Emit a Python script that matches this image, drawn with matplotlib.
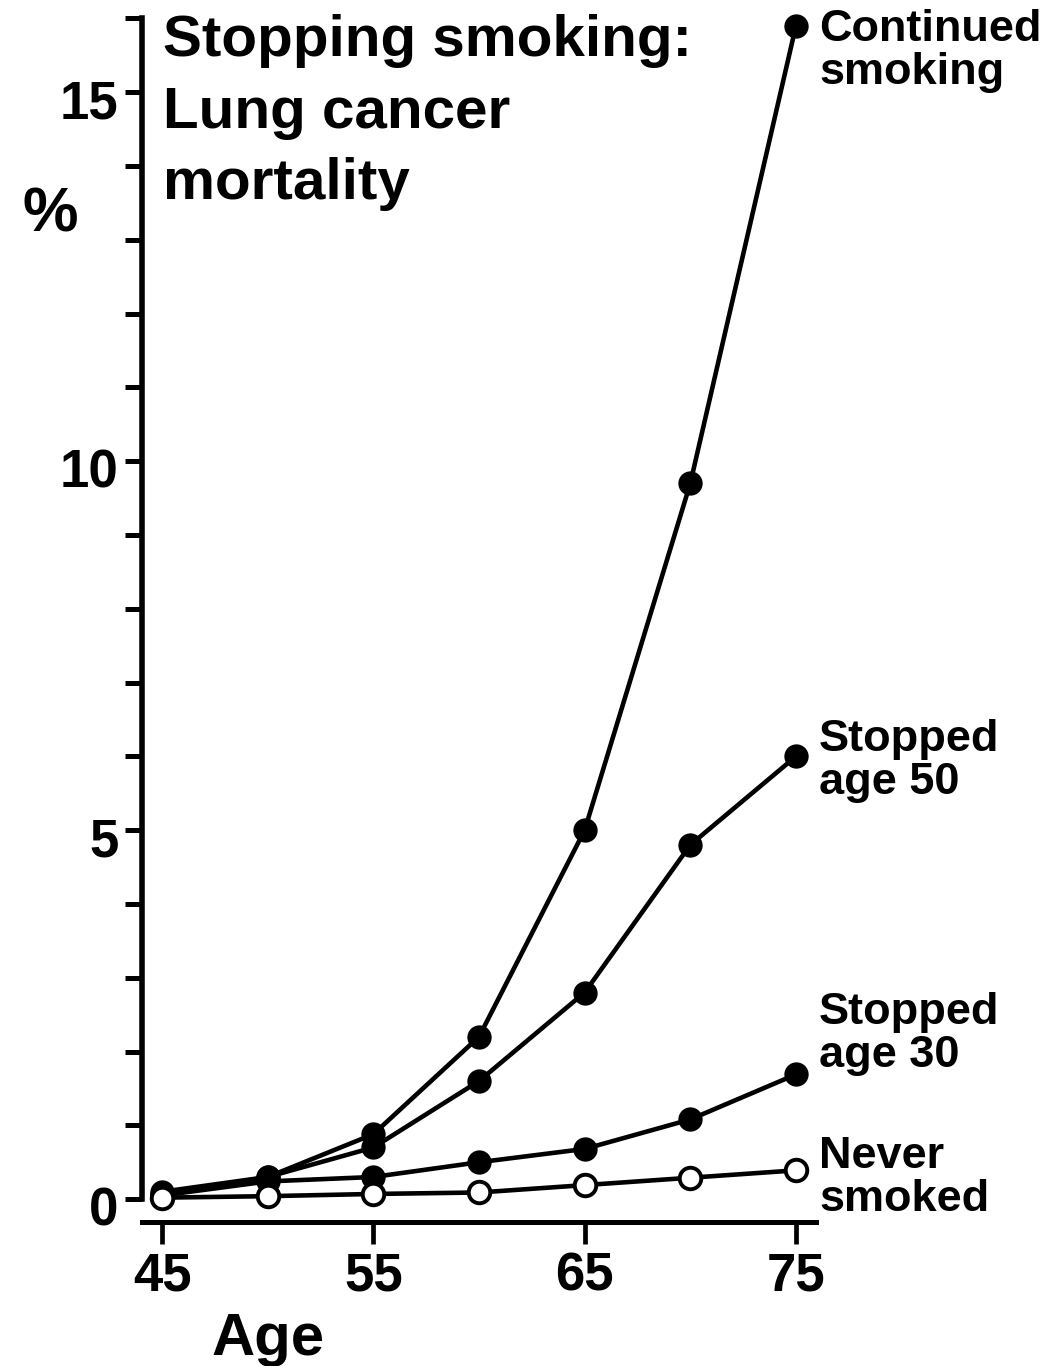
import matplotlib
matplotlib.use("Agg")
import matplotlib.pyplot as plt
import matplotlib.transforms as mtransforms

ages = [45, 50, 55, 60, 65, 70, 75]
continued = [0.10, 0.30, 0.88, 2.2, 5.0, 9.7, 15.9]
stopped50 = [0.05, 0.30, 0.70, 1.6, 2.8, 4.8, 6.0]
stopped30 = [0.05, 0.24, 0.30, 0.50, 0.68, 1.08, 1.69]
never = [0.02, 0.04, 0.07, 0.09, 0.19, 0.29, 0.39]

series_names = ["Continued\nsmoking", "Stopped\nage 50", "Stopped\nage 30", "Never\nsmoked"]
xticks = [45, 55, 65, 75]
yticks = [0, 5, 10, 15]

plt.rcParams['font.family'] = ['Liberation Sans', 'DejaVu Sans']
plt.rcParams['font.weight'] = 'bold'

W, H = 1055, 1366
fig = plt.figure(figsize=(W / 100, H / 100), dpi=100)
ax = fig.add_axes([142 / W, (H - 1222) / H, (816 - 142) / W, (1222 - 18.5) / H])
ax.set_xlim(44.05, 75.95)
ax.set_ylim(-0.31, 16)

lw = 3.3
for vals in [continued, stopped50, stopped30]:
    ax.plot(ages, vals, color='black', lw=lw, marker='o', ms=15.5,
            mfc='black', mec='black', mew=2, zorder=3, clip_on=False)
ax.plot(ages, never, color='black', lw=lw, marker='o', ms=15.5,
        mfc='white', mec='black', mew=2.8, zorder=4, clip_on=False)

for s in ['top', 'right']:
    ax.spines[s].set_visible(False)
ax.spines['left'].set_bounds(0, 16)
ax.spines['left'].set_linewidth(4.0)
ax.spines['bottom'].set_linewidth(3.6)

ax.set_xticks(xticks)
ax.set_yticks(yticks)
ax.set_yticks(range(0, 17), minor=True)
ax.tick_params(axis='y', which='both', length=12, width=3.6, pad=5,
               labelsize=38, direction='out')
ax.tick_params(axis='x', which='major', length=16, width=3.4, pad=5,
               labelsize=38, direction='out')
for lab in ax.get_xticklabels() + ax.get_yticklabels():
    lab.set_fontweight('bold')
off = mtransforms.ScaledTranslation(0, -7 / 100, fig.dpi_scale_trans)
for lab in ax.get_yticklabels():
    lab.set_transform(lab.get_transform() + off)

# Title block
fig.text(163 / W, 1 - 14 / H, "Stopping smoking:\nLung cancer\nmortality",
         fontsize=42, fontweight='bold', ha='left', va='top', linespacing=1.42)

# axis labels
fig.text(50 / W, 1 - 215 / H, "%", fontsize=45, fontweight='bold',
         ha='center', va='center')
fig.text(268 / W, 1 - 1355 / H, "Age", fontsize=43, fontweight='bold',
         ha='center', va='baseline')

# series labels
label_y_top = [9, 719, 992, 1136]
for name, yt in zip(series_names, label_y_top):
    fig.text(819 / W, 1 - yt / H, name, fontsize=32.5, fontweight='bold',
             ha='left', va='top', linespacing=1.05)

fig.savefig("out.png", dpi=100)
